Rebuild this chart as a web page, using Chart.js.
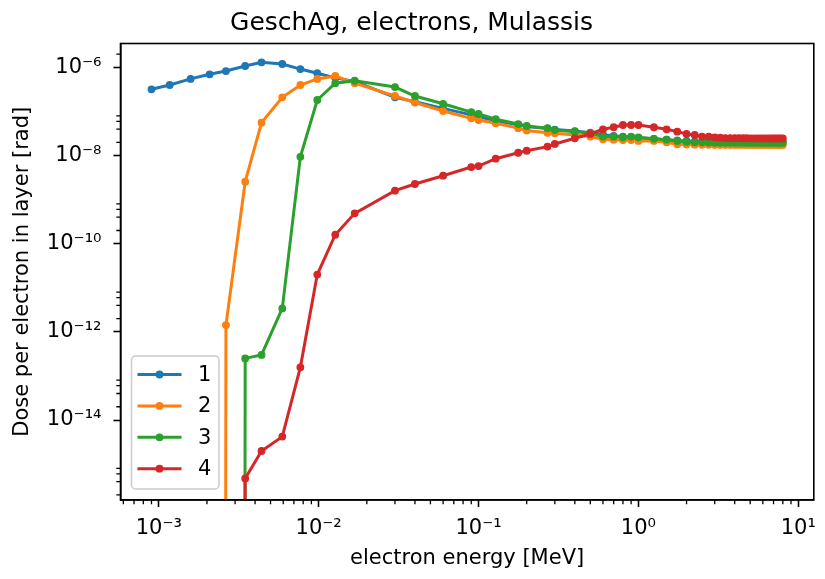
<!DOCTYPE html>
<html><head><meta charset="utf-8">
<script src="https://cdn.jsdelivr.net/npm/chart.js@4.4.0/dist/chart.umd.min.js"></script>
<style>html,body{margin:0;padding:0;background:#fff;} #wrap{width:825px;height:579px;}</style>
</head><body><div id="wrap"><canvas id="c" width="825" height="579"></canvas></div>
<script>
const chartTitle = 'GeschAg, electrons, Mulassis';
const xAxisTitle = 'electron energy [MeV]';
const yAxisTitle = 'Dose per electron in layer [rad]';
const seriesLabels = ['1', '2', '3', '4'];
const seriesColors = ['#1f77b4', '#ff7f0e', '#2ca02c', '#d62728'];

// electron energies [MeV]
const energies = [0.0009, 0.00117, 0.00158, 0.00208, 0.00263, 0.00347, 0.00439, 0.00592, 0.00768, 0.0098,
  0.0127, 0.0168, 0.03, 0.04, 0.06, 0.09, 0.1, 0.128, 0.177, 0.2,
  0.27, 0.3, 0.4, 0.5, 0.6, 0.7, 0.8, 0.9, 1.0, 1.25,
  1.5, 1.75, 2.0, 2.25, 2.5, 2.75, 3.0, 3.25, 3.5, 3.75,
  4.0, 4.25, 4.5, 4.75, 5.0, 5.25, 5.5, 5.75, 6.0, 6.25,
  6.5, 6.75, 7.0, 7.25, 7.5, 7.75, 8.0];

// dose per electron in layer [rad]; 0 = no dose (clipped like matplotlib)
const dose1 = [3.2e-7, 4.0e-7, 5.5e-7, 7.0e-7, 8.3e-7, 1.08e-6, 1.31e-6, 1.2e-6, 9.2e-7, 7.4e-7,
  5.8e-7, 4.8e-7, 2.1e-7, 1.67e-7, 1.18e-7, 8.4e-8, 7.6e-8, 6.2e-8, 5.0e-8, 4.6e-8,
  4.1e-8, 3.9e-8, 3.6e-8, 3.3e-8, 3.0e-8, 2.8e-8, 2.7e-8, 2.6e-8, 2.5e-8, 2.4e-8,
  2.3e-8, 2.2e-8, 2.15e-8, 2.1e-8, 2.1e-8, 2.1e-8, 2.1e-8, 2.08e-8, 2.08e-8, 2.08e-8,
  2.07e-8, 2.07e-8, 2.07e-8, 2.06e-8, 2.06e-8, 2.06e-8, 2.06e-8, 2.05e-8, 2.05e-8, 2.05e-8,
  2.05e-8, 2.05e-8, 2.05e-8, 2.05e-8, 2.05e-8, 2.05e-8, 2.05e-8];
const dose2 = [0, 0, 0, 0, 1.43e-12, 2.56e-9, 5.6e-8, 2.1e-7, 4.0e-7, 5.5e-7,
  6.4e-7, 4.4e-7, 2.25e-7, 1.6e-7, 1.03e-7, 7.0e-8, 6.4e-8, 5.4e-8, 4.2e-8, 3.7e-8,
  3.3e-8, 3.2e-8, 2.94e-8, 2.7e-8, 2.35e-8, 2.3e-8, 2.25e-8, 2.25e-8, 2.15e-8, 2.15e-8,
  2.0e-8, 1.8e-8, 1.78e-8, 1.77e-8, 1.76e-8, 1.76e-8, 1.75e-8, 1.75e-8, 1.75e-8, 1.75e-8,
  1.75e-8, 1.75e-8, 1.75e-8, 1.75e-8, 1.75e-8, 1.75e-8, 1.75e-8, 1.75e-8, 1.75e-8, 1.75e-8,
  1.75e-8, 1.75e-8, 1.75e-8, 1.75e-8, 1.75e-8, 1.75e-8, 1.75e-8];
const dose3 = [0, 0, 0, 0, 0, 2.5e-13, 3.0e-13, 3.4e-12, 9.4e-9, 1.83e-7,
  4.4e-7, 5.0e-7, 3.6e-7, 2.25e-7, 1.5e-7, 9.7e-8, 8.8e-8, 6.7e-8, 5.2e-8, 4.7e-8,
  4.2e-8, 3.8e-8, 3.5e-8, 3.2e-8, 2.7e-8, 2.7e-8, 2.6e-8, 2.7e-8, 2.6e-8, 2.4e-8,
  2.3e-8, 2.15e-8, 2.05e-8, 2.0e-8, 2.0e-8, 1.98e-8, 1.97e-8, 1.96e-8, 1.96e-8, 1.95e-8,
  1.95e-8, 1.95e-8, 1.95e-8, 1.95e-8, 1.95e-8, 1.95e-8, 1.95e-8, 1.95e-8, 1.95e-8, 1.95e-8,
  1.95e-8, 1.95e-8, 1.95e-8, 1.95e-8, 1.95e-8, 1.95e-8, 1.95e-8];
const dose4 = [0, 0, 0, 0, 0, 4.7e-16, 1.98e-15, 4.2e-15, 1.57e-13, 2.0e-11,
  1.6e-10, 4.9e-10, 1.6e-9, 2.27e-9, 3.5e-9, 5.5e-9, 5.8e-9, 8.5e-9, 1.16e-8, 1.29e-8,
  1.6e-8, 1.84e-8, 2.47e-8, 3.1e-8, 3.95e-8, 4.4e-8, 4.95e-8, 4.95e-8, 4.95e-8, 4.4e-8,
  3.95e-8, 3.5e-8, 3.1e-8, 2.94e-8, 2.7e-8, 2.7e-8, 2.6e-8, 2.55e-8, 2.5e-8, 2.5e-8,
  2.5e-8, 2.5e-8, 2.48e-8, 2.48e-8, 2.47e-8, 2.47e-8, 2.46e-8, 2.46e-8, 2.45e-8, 2.45e-8,
  2.45e-8, 2.45e-8, 2.45e-8, 2.45e-8, 2.45e-8, 2.45e-8, 2.45e-8];
const seriesValues = [dose1, dose2, dose3, dose4];

const xTickValues = [1e-3, 1e-2, 1e-1, 1, 10];
const xTickLabels = ['10⁻³', '10⁻²', '10⁻¹', '10⁰', '10¹'];
const yTickValues = [1e-14, 1e-12, 1e-10, 1e-8, 1e-6];
const yTickLabels = ['10⁻¹⁴', '10⁻¹²', '10⁻¹⁰', '10⁻⁸', '10⁻⁶'];
const xLimits = [5.76e-4, 12.5];
const yLimits = [1.53e-16, 3.5e-6];

const FONT = "'DejaVu Sans', sans-serif";
Chart.defaults.font.family = FONT;
Chart.defaults.color = '#000';

// matplotlib clips non-positive values on log axes to a tiny positive number
const clipNonPositive = v => (v > 0 ? v : 1e-300);

const datasets = seriesValues.map((vals, i) => ({
  label: seriesLabels[i],
  data: energies.map((e, j) => ({ x: e, y: clipNonPositive(vals[j]) })),
  borderColor: seriesColors[i],
  backgroundColor: seriesColors[i],
  pointBackgroundColor: seriesColors[i],
  pointBorderColor: seriesColors[i],
  borderWidth: 3,
  pointRadius: 3.3,
  pointBorderWidth: 1.2,
  tension: 0,
  order: seriesLabels.length - i
}));

const frameAndMinor = {
  id: 'frameAndMinor',
  afterDatasetsDraw(chart) {
    const ctx = chart.ctx, ca = chart.chartArea;
    const xs = chart.scales.x, ys = chart.scales.y;
    ctx.save();
    ctx.strokeStyle = '#000';
    ctx.lineWidth = 1.3;
    ctx.beginPath();
    for (let n = -4; n <= 1; n++) {
      for (let k = 2; k <= 9; k++) {
        const v = k * Math.pow(10, n);
        if (v <= xLimits[0] || v >= xLimits[1]) continue;
        const px = xs.getPixelForValue(v);
        ctx.moveTo(px, ca.bottom);
        ctx.lineTo(px, ca.bottom + 4.2);
      }
    }
    for (let n = -16; n <= -6; n += 2) {
      for (const k of [2, 4, 6, 8]) {
        const v = k * Math.pow(10, n);
        if (v <= yLimits[0] || v >= yLimits[1]) continue;
        const py = ys.getPixelForValue(v);
        ctx.moveTo(ca.left - 4.2, py);
        ctx.lineTo(ca.left, py);
      }
    }
    ctx.stroke();
    ctx.lineWidth = 1.6;
    ctx.strokeRect(ca.left, ca.top, ca.right - ca.left, ca.bottom - ca.top);
    ctx.restore();
  }
};

const mplLegend = {
  id: 'mplLegend',
  afterDatasetsDraw(chart) {
    const ctx = chart.ctx, ca = chart.chartArea;
    const w = 87.5, h = 133;
    const x0 = ca.left + 11, y0 = ca.bottom - 11 - h;
    const r = 4;
    ctx.save();
    ctx.beginPath();
    ctx.moveTo(x0 + r, y0);
    ctx.arcTo(x0 + w, y0, x0 + w, y0 + h, r);
    ctx.arcTo(x0 + w, y0 + h, x0, y0 + h, r);
    ctx.arcTo(x0, y0 + h, x0, y0, r);
    ctx.arcTo(x0, y0, x0 + w, y0, r);
    ctx.closePath();
    ctx.fillStyle = 'rgba(255,255,255,0.8)';
    ctx.fill();
    ctx.strokeStyle = '#cccccc';
    ctx.lineWidth = 1.5;
    ctx.stroke();
    seriesLabels.forEach((lab, i) => {
      const cy = y0 + 18.5 + i * 31.4;
      const c = seriesColors[i];
      ctx.strokeStyle = c;
      ctx.lineWidth = 3;
      ctx.beginPath();
      ctx.moveTo(x0 + 6, cy);
      ctx.lineTo(x0 + 50, cy);
      ctx.stroke();
      ctx.fillStyle = c;
      ctx.beginPath();
      ctx.arc(x0 + 28, cy, 3.9, 0, Math.PI * 2);
      ctx.fill();
      ctx.fillStyle = '#000';
      ctx.font = '21px ' + FONT;
      ctx.textBaseline = 'middle';
      ctx.textAlign = 'left';
      ctx.fillText(lab, x0 + 66.5, cy + 1);
    });
    ctx.restore();
  }
};

new Chart(document.getElementById('c'), {
  type: 'line',
  data: { datasets },
  options: {
    responsive: false,
    animation: false,
    devicePixelRatio: 1,
    events: [],
    layout: { padding: { top: 0, right: 2, bottom: 0, left: 0 } },
    plugins: {
      legend: { display: false },
      tooltip: { enabled: false },
      title: {
        display: true, text: chartTitle, color: '#000',
        font: { size: 25, weight: 'normal', family: FONT },
        padding: { top: 8, bottom: 5.5 }
      }
    },
    scales: {
      x: {
        type: 'logarithmic', position: 'bottom',
        min: xLimits[0], max: xLimits[1],
        afterBuildTicks: s => { s.ticks = xTickValues.map(v => ({ value: v })); },
        afterFit: s => { s.height = 79; },
        ticks: {
          autoSkip: false, maxRotation: 0, minRotation: 0, padding: 9, color: '#000',
          font: { size: 21, family: FONT },
          callback: v => { const i = xTickValues.indexOf(v); return i >= 0 ? xTickLabels[i] : ''; }
        },
        grid: { drawOnChartArea: false, drawTicks: true, tickLength: 7, tickWidth: 1.6, tickColor: '#000' },
        border: { display: true, color: '#000', width: 1.6 },
        title: { display: true, text: xAxisTitle, color: '#000', font: { size: 21, family: FONT }, padding: { top: 0, bottom: 8 } }
      },
      y: {
        type: 'logarithmic', position: 'left',
        min: yLimits[0], max: yLimits[1],
        afterBuildTicks: s => { s.ticks = yTickValues.map(v => ({ value: v })); },
        afterFit: s => { s.width = 120.5; },
        ticks: {
          autoSkip: false, padding: 12, color: '#000',
          font: { size: 21, family: FONT },
          callback: v => { const i = yTickValues.indexOf(v); return i >= 0 ? yTickLabels[i] : ''; }
        },
        grid: { drawOnChartArea: false, drawTicks: true, tickLength: 7, tickWidth: 1.6, tickColor: '#000' },
        border: { display: true, color: '#000', width: 1.6 },
        title: { display: true, text: yAxisTitle, color: '#000', font: { size: 21, family: FONT }, padding: { top: 10, bottom: 0 } }
      }
    }
  },
  plugins: [frameAndMinor, mplLegend]
});
</script>
</body></html>
